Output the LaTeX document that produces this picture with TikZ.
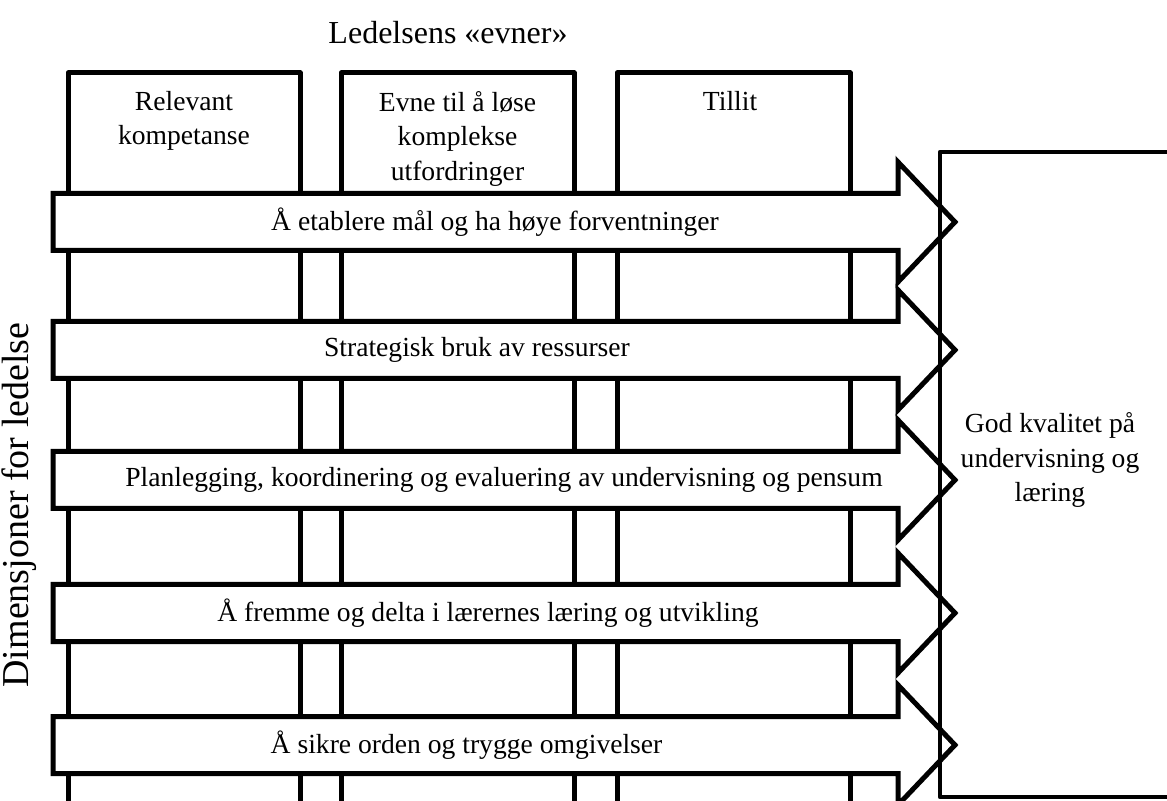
\documentclass[tikz,border=0pt]{standalone}
\usepackage{fontspec}
\setmainfont{Liberation Serif}
\usetikzlibrary{calc,positioning}

\begin{document}
\begin{tikzpicture}[x=0.5pt,y=-0.5pt,
    kolonne/.style={draw=black,line width=2.5pt,fill=white,line join=round},
    pil/.style={draw=black,line width=2.5pt,fill=white,line join=miter},
    boks/.style={draw=black,line width=2.2pt,line join=round},
    tekst/.style={font=\fontsize{13.8}{17.2}\selectfont,align=center,inner sep=0pt}]
    \useasboundingbox (0,0) rectangle (1167,801);

    \node[font=\fontsize{16}{19}\selectfont] (tittel) at (448,33) {Ledelsens «evner»};
    \node[font=\fontsize{19}{22}\selectfont,rotate=90] (dim) at (19,505) {Dimensjoner for ledelse};

    % kolonnene
    \foreach \xa/\xb/\navn/\t in
    {68/300/komp/{Relevant\\kompetanse},
        341/574/evne/{Evne til å løse\\komplekse\\utfordringer},
        617/850/tillit/{Tillit}
    }
    {
        \draw[kolonne] (\xa,803) -- (\xa,73) -- (\xb,73) -- (\xb,803);
        \node[tekst,anchor=north] (\navn) at ({(\xa+\xb)/2},91) {\t};
    };

    % pilene
    \foreach \y/\xt/\navn/\t in
    {222/495/maal/{Å etablere mål og ha høye forventninger},
        350/477/ressurs/{Strategisk bruk av ressurser},
        480/504/plan/{Planlegging, koordinering og evaluering av undervisning og pensum},
        613/488/fremme/{Å fremme og delta i lærernes læring og utvikling},
        745/470/orden/{Å sikre orden og trygge omgivelser}
    }
    {
        \draw[pil] (53,\y-28.5) -- (898,\y-28.5) -- (898,\y-60) -- (955,\y)
            -- (898,\y+60) -- (898,\y+28.5) -- (53,\y+28.5) -- cycle;
        \node[tekst] (\navn) at (\xt,\y) {\t};
    };

    % resultat
    \draw[boks] (1175,152) -- (940,152) -- (940,797) -- (1175,797);
    \node[tekst] (kvalitet) at (1050,460) {God kvalitet på\\undervisning og\\læring};
\end{tikzpicture}
\end{document}
